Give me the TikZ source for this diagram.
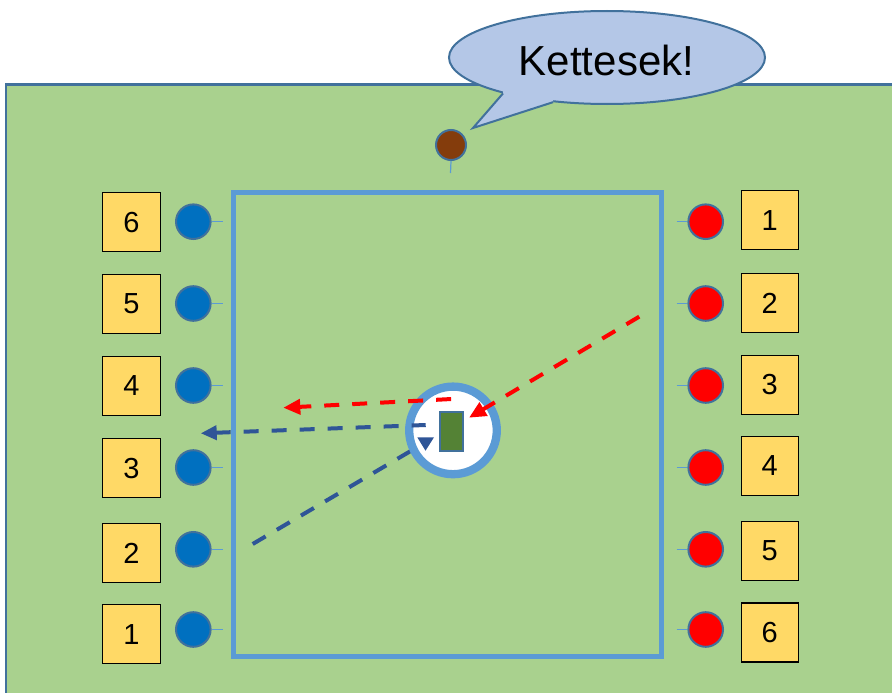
\documentclass[tikz,border=0pt]{standalone}
\usepackage{fontspec}
\setmainfont{Liberation Sans}
\usetikzlibrary{arrows.meta,shapes.geometric,calc}
\definecolor{field}{HTML}{A9D18E}
\definecolor{edge}{HTML}{41719C}
\definecolor{court}{HTML}{5B9BD5}
\definecolor{bubble}{HTML}{B4C7E7}
\definecolor{teamblue}{HTML}{0070C0}
\definecolor{darkblue}{HTML}{2F5597}
\definecolor{numfill}{HTML}{FFD966}
\definecolor{chestnut}{HTML}{843C0C}
\definecolor{figurefill}{HTML}{548235}
\begin{document}
\begin{tikzpicture}[x=1pt,y=-1pt,
  pin/.style={circle, draw=edge, line width=2pt, minimum size=34.6pt, inner sep=0pt},
  numbox/.style={draw=black, line width=1.1pt, fill=numfill, minimum width=57.5pt,
    minimum height=59pt, inner sep=0pt, font=\fontsize{29}{29}\selectfont},
  lead/.style={draw=court, line width=1.2pt},
  pass/.style={line width=4pt, dash pattern=on 15pt off 13pt, dash phase=15pt},
  passtip/.style={line width=4pt},
  redtip/.style={-{Triangle[length=17pt,width=15pt]}},
  bluetip/.style={-{Triangle[length=16pt,width=14pt]}},
]
\useasboundingbox (0,0) rectangle (892,693);

% playing field
\draw[fill=field, draw=edge, line width=2.5pt] (6.2,84.5) rectangle (910,710);

% speech bubble
\node[ellipse, draw=edge, fill=bubble, line width=2pt, minimum width=316pt,
  minimum height=93pt, inner sep=0pt] (bubble) at (607,57.5) {};
\coordinate (tailA) at (503,93.4);
\coordinate (tailtip) at (473,128);
\coordinate (tailB) at (553,102.2);
\fill[bubble] (503,88) -- (tailA) -- (tailtip) -- (tailB) -- (553,96) -- cycle;
\draw[edge, line width=2pt, line join=miter] (tailA) -- (tailtip) -- (tailB);
\node[font=\fontsize{42}{42}\selectfont, inner sep=0pt] (word) at (606.5,60) {Kettesek!};

% coach
\node[pin, fill=chestnut, minimum size=30pt] (coach) at (451,145) {};
\coordinate (coachfoot) at (450.5,173);
\draw[lead] (coach.south) -- (coachfoot);

% court
\draw[court, line width=5pt] (233,192) rectangle (661.5,656);

% blue team, left side
\foreach \n/\cy/\by in {6/221.7/222.3, 5/303.5/304, 4/385.5/386, 3/467.5/468.3,
                        2/549.3/553.3, 1/629.5/634.3} {
  \node[pin, fill=teamblue] (b\n) at (193.3,\cy) {};
  \node[numbox] (bn\n) at (131.5,\by) {\n};
  \coordinate (bl\n) at (222.7,\cy);
  \draw[lead] (b\n.east) -- (bl\n);
}

% red team, right side
\foreach \n/\cy/\by in {1/221.7/220.3, 2/303.5/303, 3/385.5/385, 4/467.5/466,
                        5/549.3/551, 6/629.5/632.5} {
  \node[pin, fill=red] (r\n) at (705.7,\cy) {};
  \node[numbox] (rn\n) at (769.8,\by) {\n};
  \coordinate (rl\n) at (676.7,\cy);
  \draw[lead] (rl\n) -- (r\n.west);
}

% incoming blue pass, passing under the player
\coordinate (p4a) at (252.7,544);
\coordinate (p4b) at (410.7,451);
\draw[pass, dash phase=0pt, darkblue] (p4a) -- (p4b);

% player with the ball
\node[circle, draw=court, line width=8.3pt, fill=white, minimum size=87.6pt,
  inner sep=0pt] (player) at (453,430.4) {};
\node[draw=edge, line width=1.8pt, fill=figurefill, minimum width=22.9pt,
  minimum height=38.9pt, inner sep=0pt] (ball) at (451.7,431.3) {};
\coordinate (triA) at (417.3,437.3);
\coordinate (triB) at (434,437.3);
\coordinate (triC) at (425.5,450.7);
\fill[darkblue] (triA) -- (triB) -- (triC) -- cycle;

% passes: dashed shaft laid from the tip backwards, last dash solid into the head
\coordinate (p1a) at (649.3,310.7);
\coordinate (p1b) at (469,417.7);
\coordinate (p1s) at ($(p1b)!30pt!(p1a)$);
\draw[pass, red] (p1s) -- (p1a);
\draw[passtip, red, redtip] (p1s) -- (p1b);

\coordinate (p2a) at (451.7,399);
\coordinate (p2b) at (283.3,407.7);
\coordinate (p2s) at ($(p2b)!28pt!(p2a)$);
\draw[pass, red] (p2s) -- (p2a);
\draw[passtip, red, redtip] (p2s) -- (p2b);

\coordinate (p3a) at (425.7,425);
\coordinate (p3b) at (200.7,433.3);
\coordinate (p3s) at ($(p3b)!30pt!(p3a)$);
\draw[pass, darkblue] (p3s) -- (p3a);
\draw[passtip, darkblue, bluetip] (p3s) -- (p3b);
\end{tikzpicture}
\end{document}
